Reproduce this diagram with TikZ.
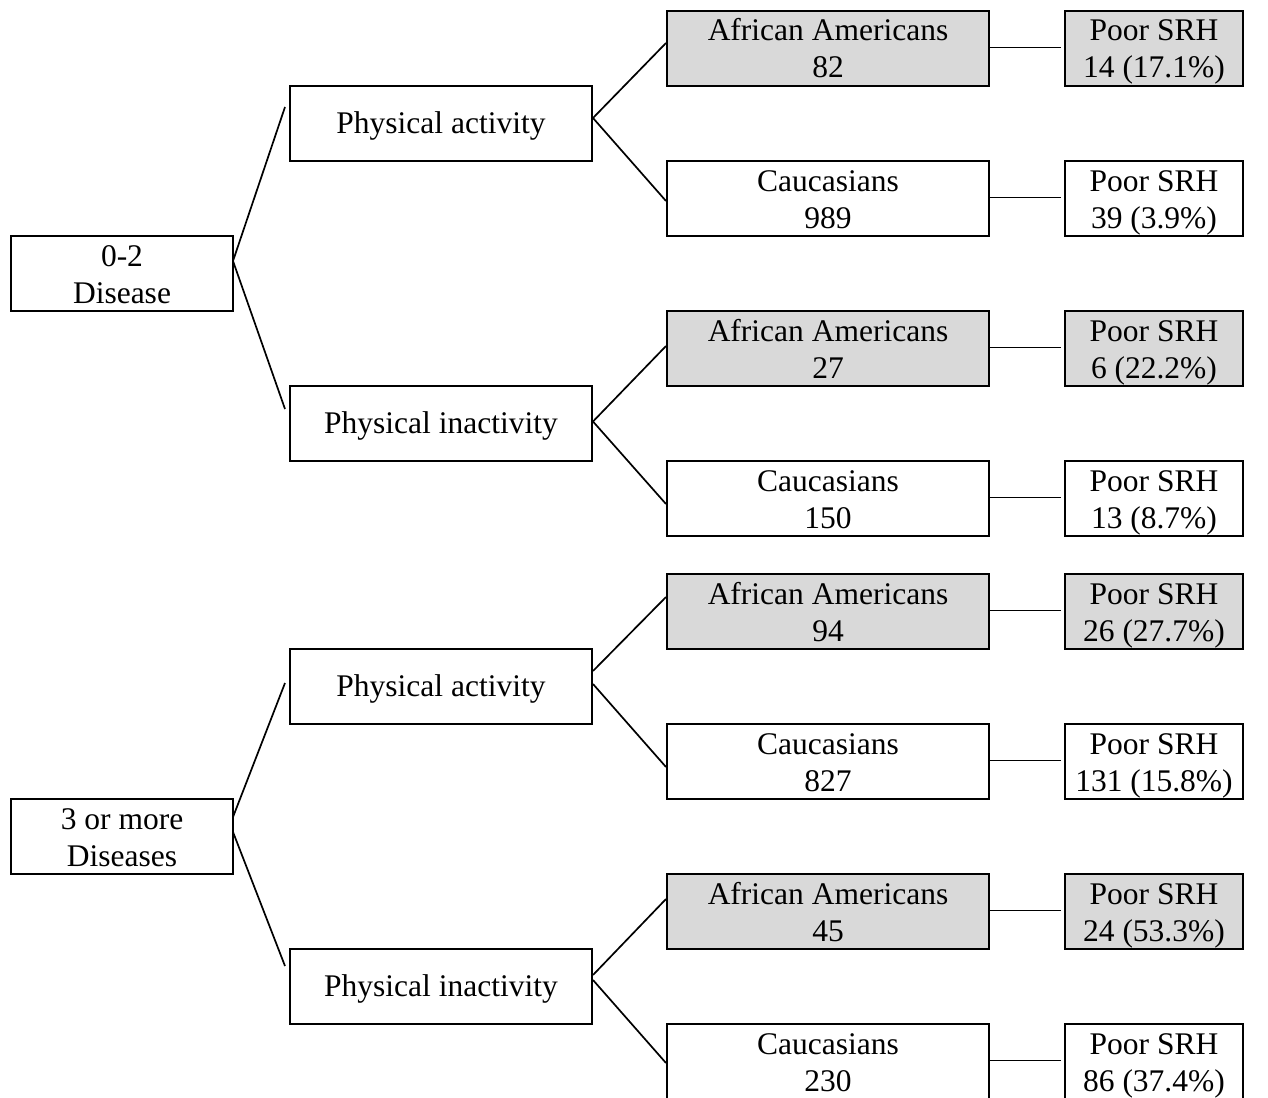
\documentclass[tikz,border=0pt]{standalone}
\usepackage{fontspec}
\setmainfont{Liberation Serif}
\definecolor{boxgrey}{RGB}{217,217,217}
\newcommand{\topst}{\rule{0pt}{30pt}}
\newcommand{\botst}{\rule[-8pt]{0pt}{8pt}}
\newcommand{\onest}{\rule[-8pt]{0pt}{36pt}}
\tikzset{
  box/.style={draw=black, line width=2pt, rectangle, inner sep=0pt, align=center,
              minimum height=75pt, font=\fontsize{31.5}{37}\selectfont},
  rootbox/.style={box, minimum width=222pt},
  midbox/.style={box, minimum width=302pt},
  racebox/.style={box, minimum width=322pt},
  srhbox/.style={box, minimum width=178pt},
  shaded/.style={fill=boxgrey},
  link/.style={draw=black, line width=1.7pt}
}
\begin{document}
\begin{tikzpicture}[x=1pt,y=-1pt]
\useasboundingbox (0,0) rectangle (1268,1097);
\clip (0,0) rectangle (1268,1097);
\fill[white] (0,0) rectangle (1268,1097);

% roots
\node[rootbox] (r1) at (122,273.5) {\topst 0-2\\Disease\botst};
\node[rootbox] (r2) at (122,836.5) {\topst 3 or more\\Diseases\botst};

% activity level
\node[midbox] (pa1) at (441,123.5) {\onest Physical activity};
\node[midbox] (pi1) at (441,423.5) {\onest Physical inactivity};
\node[midbox] (pa2) at (441,686.5) {\onest Physical activity};
\node[midbox] (pi2) at (441,986.5) {\onest Physical inactivity};

% race
\node[racebox,shaded] (aa1) at (828,48.5) {\topst African Americans\\82\botst};
\node[racebox] (c1) at (828,198.5) {\topst Caucasians\\989\botst};
\node[racebox,shaded] (aa2) at (828,348.5) {\topst African Americans\\27\botst};
\node[racebox] (c2) at (828,498.5) {\topst Caucasians\\150\botst};
\node[racebox,shaded] (aa3) at (828,611.5) {\topst African Americans\\94\botst};
\node[racebox] (c3) at (828,761.5) {\topst Caucasians\\827\botst};
\node[racebox,shaded] (aa4) at (828,911.5) {\topst African Americans\\45\botst};
\node[racebox] (c4) at (828,1061.5) {\topst Caucasians\\230\botst};

% SRH
\node[srhbox,shaded] (s1) at (1154,48.5) {\topst Poor SRH\\14 (17.1\%)\botst};
\node[srhbox] (s2) at (1154,198.5) {\topst Poor SRH\\39 (3.9\%)\botst};
\node[srhbox,shaded] (s3) at (1154,348.5) {\topst Poor SRH\\6 (22.2\%)\botst};
\node[srhbox] (s4) at (1154,498.5) {\topst Poor SRH\\13 (8.7\%)\botst};
\node[srhbox,shaded] (s5) at (1154,611.5) {\topst Poor SRH\\26 (27.7\%)\botst};
\node[srhbox] (s6) at (1154,761.5) {\topst Poor SRH\\131 (15.8\%)\botst};
\node[srhbox,shaded] (s7) at (1154,911.5) {\topst Poor SRH\\24 (53.3\%)\botst};
\node[srhbox] (s8) at (1154,1061.5) {\topst Poor SRH\\86 (37.4\%)\botst};

% root -> activity
\draw[link] ([xshift=-1pt,yshift=12.5pt]r1.east) -- ([xshift=-4pt,yshift=16.5pt]pa1.west);
\draw[link] ([xshift=-1pt,yshift=12.5pt]r1.east) -- ([xshift=-4pt,yshift=14.5pt]pi1.west);
\draw[link] ([xshift=-1pt,yshift=19.5pt]r2.east) -- ([xshift=-4pt,yshift=3.5pt]pa2.west);
\draw[link] ([xshift=-1pt,yshift=4.5pt]r2.east) -- ([xshift=-4pt,yshift=20.5pt]pi2.west);

% activity -> race
\draw[link] ([yshift=5.5pt]pa1.east) -- ([yshift=5.5pt]aa1.west);
\draw[link] ([yshift=5.5pt]pa1.east) -- ([yshift=-2.5pt]c1.west);
\draw[link] ([yshift=2pt]pi1.east) -- ([yshift=2.5pt]aa2.west);
\draw[link] ([yshift=2pt]pi1.east) -- ([yshift=-5.5pt]c2.west);
\draw[link] ([yshift=15.5pt]pa2.east) -- ([yshift=14.5pt]aa3.west);
\draw[link] ([yshift=2.5pt]pa2.east) -- ([yshift=-5.5pt]c3.west);
\draw[link] ([yshift=11.5pt]pi2.east) -- ([yshift=12.5pt]aa4.west);
\draw[link] ([yshift=6.5pt]pi2.east) -- ([yshift=-1.5pt]c4.west);

% race -> SRH
\foreach \a/\s in {aa1/s1, c1/s2, aa2/s3, c2/s4, aa3/s5, c3/s6, aa4/s7, c4/s8}{
  \draw[link] ([xshift=-2pt,yshift=1pt]\a.east) -- ([xshift=-3pt,yshift=1pt]\s.west);
}
\end{tikzpicture}
\end{document}
